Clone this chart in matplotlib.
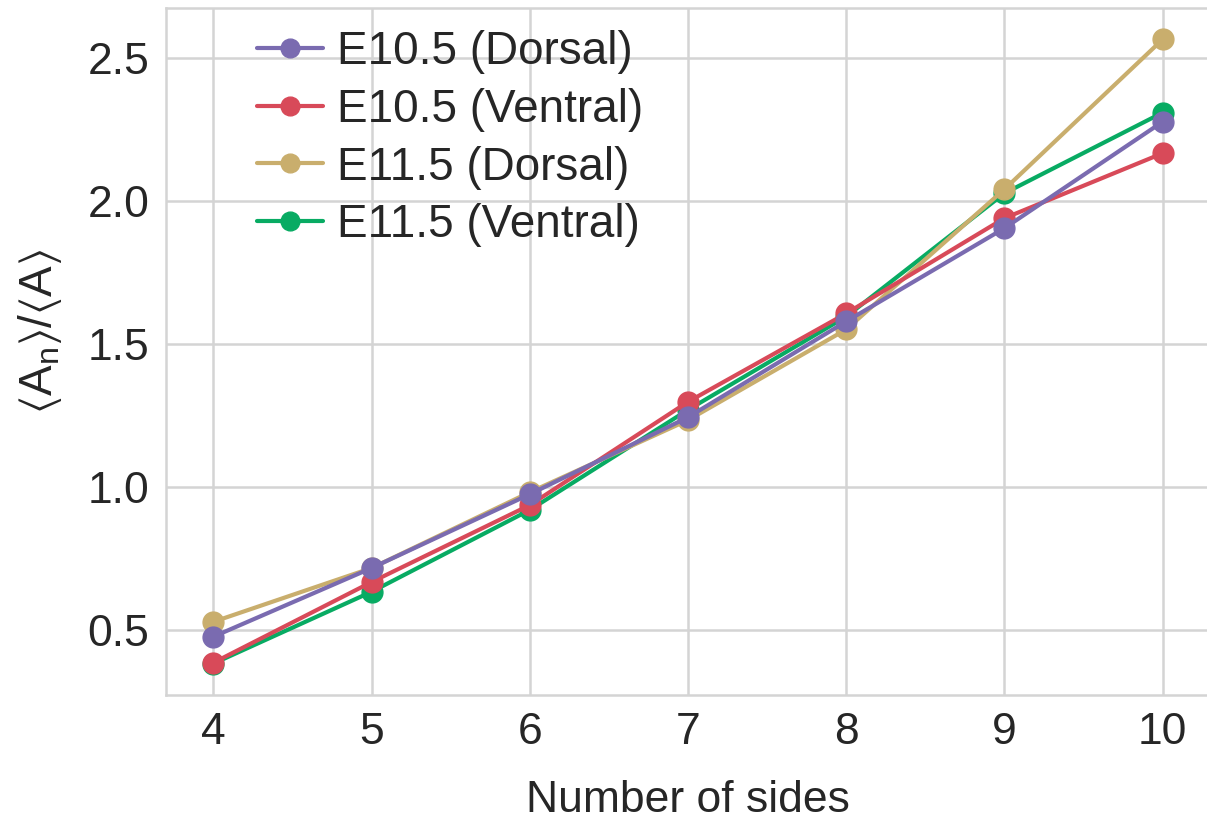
import matplotlib
matplotlib.use("Agg")
import matplotlib.pyplot as plt
import seaborn as sns

# data
sides = [4, 5, 6, 7, 8, 9, 10]
e105_dorsal = [0.477, 0.717, 0.975, 1.244, 1.579, 1.905, 2.277]
e105_ventral = [0.386, 0.668, 0.937, 1.298, 1.607, 1.940, 2.167]
e115_dorsal = [0.529, 0.717, 0.982, 1.234, 1.551, 2.041, 2.565]
e115_ventral = [0.383, 0.634, 0.920, 1.270, 1.596, 2.027, 2.309]

labels = ["E10.5 (Dorsal)", "E10.5 (Ventral)", "E11.5 (Dorsal)", "E11.5 (Ventral)"]
colors = ["#7a6bb0", "#d84a59", "#c9ae6d", "#08ab63"]

sns.set_style("whitegrid")
plt.rcParams["font.family"] = ["Liberation Sans", "DejaVu Sans"]
plt.rcParams["mathtext.fontset"] = "custom"
plt.rcParams["mathtext.rm"] = "Liberation Sans"
plt.rcParams["mathtext.it"] = "Liberation Sans"
plt.rcParams["mathtext.default"] = "regular"

fig = plt.figure(figsize=(12.07, 8.23), dpi=100)
ax = fig.add_axes([166 / 1207, 1 - 695 / 823, (1210 - 166) / 1207, (695 - 8) / 823])

# earlier series on top, like the reference
series = [e105_dorsal, e105_ventral, e115_dorsal, e115_ventral]
zorders = [6, 5, 4, 3]
for vals, lab, col, z in zip(series, labels, colors, zorders):
    ax.plot(sides, vals, "-o", color=col, label=lab, lw=3, ms=15, zorder=z)

ax.set_xlim(3.7, 10.3)
ax.set_ylim(0.273, 2.675)
ax.set_xticks(sides)
ax.set_yticks([0.5, 1.0, 1.5, 2.0, 2.5])

ax.grid(color="#d4d4d4", lw=1.8)
for s in ax.spines.values():
    s.set_color("#d4d4d4")
    s.set_linewidth(1.8)

ax.tick_params(axis="both", labelsize=32, colors="#262626", length=0)
ax.tick_params(axis="x", pad=12)
ax.tick_params(axis="y", pad=12)

ax.set_xlabel("Number of sides", fontsize=32, color="#262626", labelpad=20)
ax.set_ylabel(r"$\langle A_n\rangle / \langle A\rangle$", fontsize=33, color="#262626")
ax.yaxis.set_label_coords((64 - 166) / 1044, (695 - 331) / 687)

leg = ax.legend(loc="upper left", bbox_to_anchor=((257 - 166) / 1044, 1.0 - 22 / 687),
                frameon=False, fontsize=33, handlelength=1.45, handletextpad=0.3,
                labelspacing=0.3, borderpad=0, borderaxespad=0, markerscale=0.9)
for t in leg.get_texts():
    t.set_color("#262626")

fig.savefig("out.png", dpi=100)
